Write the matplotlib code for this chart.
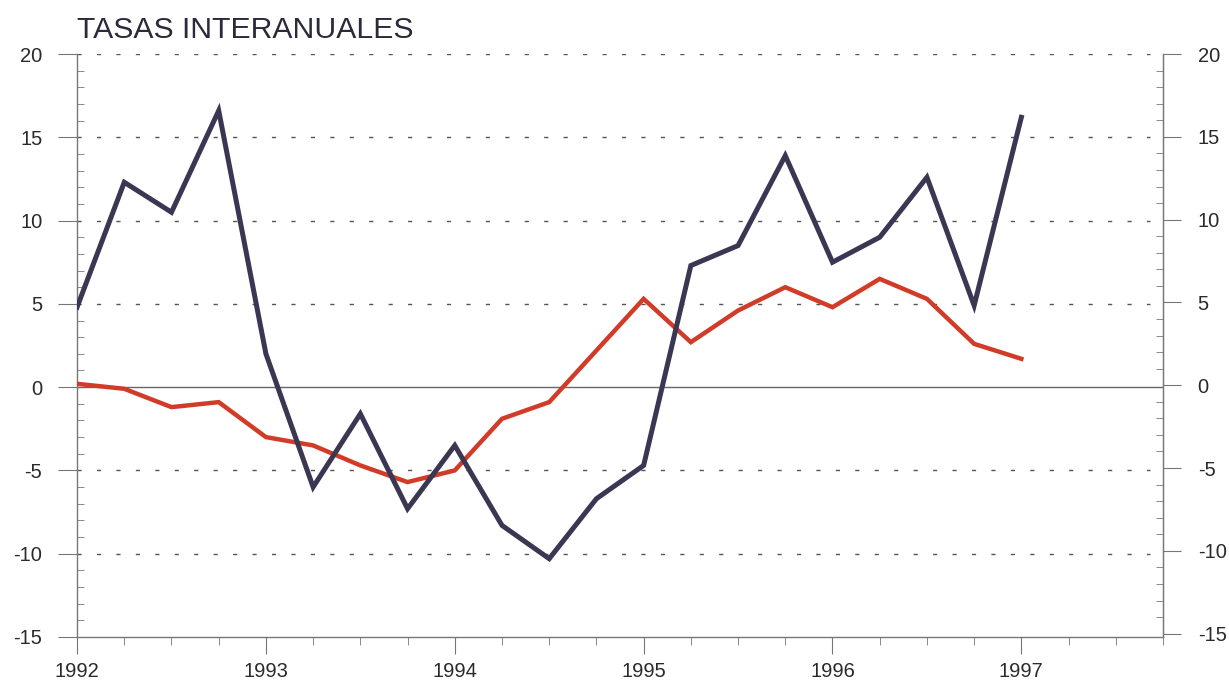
import numpy as np
import matplotlib
matplotlib.use("Agg")
import matplotlib.pyplot as plt
from matplotlib.ticker import MultipleLocator

plt.rcParams['font.family'] = ['Liberation Sans', 'DejaVu Sans']
plt.rcParams['axes.unicode_minus'] = False

# quarterly periods, 1992 Q1 .. 1997 Q1
quarters = [1992 + i * 0.25 for i in range(21)]
year_labels = ['1992', '1993', '1994', '1995', '1996', '1997']

# dark series
dark_vals = [4.8, 12.3, 10.5, 16.6, 2.0, -6.0, -1.6, -7.3, -3.5, -8.3, -10.3,
             -6.7, -4.7, 7.3, 8.5, 13.9, 7.5, 9.0, 12.6, 4.9, 16.2]
# red series
red_vals = [0.2, -0.1, -1.2, -0.9, -3.0, -3.5, -4.7, -5.7, -5.0, -1.9, -0.9,
            2.2, 5.3, 2.7, 4.6, 6.0, 4.8, 6.5, 5.3, 2.6, 1.7]

fig = plt.figure(figsize=(12.29, 6.89), dpi=100)
ax = fig.add_axes([0.0627, 0.0755, 0.8836, 0.8461])

ax.set_xlim(1992, 1997.75)
ax.set_ylim(-15, 20)

# grid lines (stop a bit short of the right axis)
for v in [20, 15, 10, 5, -5, -10]:
    ax.plot([1992, 1997.68], [v, v], color='#555555', lw=1, ls=(0, (3, 11)), zorder=1)
ax.axhline(0, color='#666666', lw=1, zorder=1)

ax.plot(quarters, red_vals, color='#d23b28', lw=3.2, solid_joinstyle='miter', zorder=3)
ax.plot(quarters, dark_vals, color='#3b3753', lw=3.6, solid_joinstyle='miter', zorder=4)

ax.spines['top'].set_visible(False)
for s in ['left', 'bottom', 'right']:
    ax.spines[s].set_color('#777777')
    ax.spines[s].set_linewidth(1)

ax.set_yticks(range(-15, 21, 5))
ax.yaxis.set_minor_locator(MultipleLocator(1))
ax.tick_params(axis='y', which='major', direction='out', length=14, color='#777777',
               labelsize=14.5, labelcolor='#2a2a2a', pad=11)
ax.tick_params(axis='y', which='minor', direction='in', length=5, color='#777777')

ax.set_xticks(range(1992, 1998))
ax.set_xticklabels(year_labels)
ax.xaxis.set_minor_locator(MultipleLocator(0.25))
ax.tick_params(axis='x', which='major', direction='out', length=12, color='#777777',
               labelsize=14.5, labelcolor='#2a2a2a', pad=6)
ax.tick_params(axis='x', which='minor', direction='out', length=6, color='#777777')

# right axis
ax2 = ax.twinx()
ax2.set_ylim(-15.2, 19.85)
ax2.spines['top'].set_visible(False)
ax2.spines['left'].set_visible(False)
ax2.spines['bottom'].set_visible(False)
ax2.spines['right'].set_color('#777777')
ax2.set_yticks(range(-15, 21, 5))
ax2.yaxis.set_minor_locator(MultipleLocator(1))
ax2.tick_params(axis='y', which='major', direction='out', length=13, color='#777777',
                labelsize=14.5, labelcolor='#2a2a2a', pad=12)
ax2.tick_params(axis='y', which='minor', direction='in', length=5, color='#777777')

fig.text(0.0627, 0.957, 'TASAS INTERANUALES', fontsize=21.7, color='#2a2a3a',
         ha='left', va='center')

fig.savefig('out.png', dpi=100, facecolor='white')
